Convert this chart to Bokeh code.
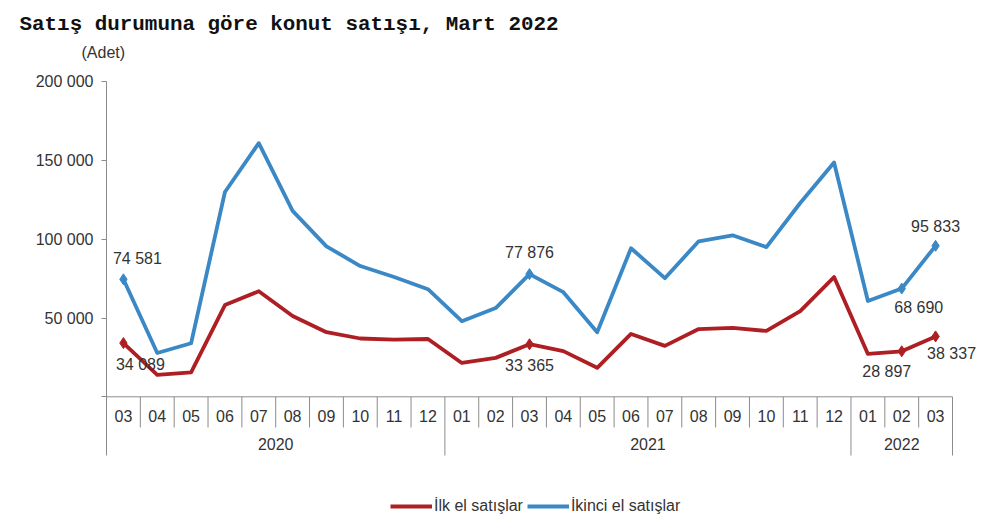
from bokeh.plotting import figure
from bokeh.models import (Range1d, FixedTicker, Title, Legend, LegendItem,
                          ColumnDataSource)
from bokeh.embed import file_html
from bokeh.resources import INLINE

# ---------------- data ----------------
months = ["03", "04", "05", "06", "07", "08", "09", "10", "11", "12",
          "01", "02", "03", "04", "05", "06", "07", "08", "09", "10", "11", "12",
          "01", "02", "03"]
years = ["2020"] * 10 + ["2021"] * 12 + ["2022"] * 3
year_labels = ["2020", "2021", "2022"]

ilk_el = [34089, 13900, 15500, 58200, 67000, 51300, 41000, 37000, 36300, 36700,
          21500, 24700, 33365, 29000, 18400, 39900, 32300, 43000, 43700, 41800,
          54400, 76000, 27200, 28897, 38337]
ikinci_el = [74581, 27800, 34000, 130000, 161000, 118000, 95500, 83000, 76000, 68300,
             48000, 56300, 77876, 66400, 41000, 94300, 75300, 98700, 102500, 95000,
             123000, 148700, 60800, 68690, 95833]

labeled_idx = [0, 12, 23, 24]
y_ticks = [0, 50000, 100000, 150000, 200000]
y_tick_labels = ["", "50 000", "100 000", "150 000", "200 000"]

title_text = "Satış durumuna göre konut satışı, Mart 2022"
unit_text = "(Adet)"
series_names = ["İlk el satışlar", "İkinci el satışlar"]

# ---------------- styling / layout ----------------
RED = "#AE1F24"
BLUE = "#3A88C6"
GRID = "#8C8C8C"
TXT = "#333333"
FONT = "Liberation Sans"

W, H = 987, 515
LEFT = 106
FT = 60                  # pixel row of the frame top (titles above it)
CAT_W = 33.84
ZERO_PX = 396.3          # pixel row of value 0
K = 200000 / 315.1       # value units per pixel


def y_at(px):
    return (ZERO_PX - px) * K


n = len(months)
x = list(range(n))

p = figure(width=W, height=H, output_backend="svg", toolbar_location=None,
           x_axis_location=None, y_axis_location="left",
           min_border_left=LEFT, min_border_right=0, min_border_top=FT,
           min_border_bottom=0,
           x_range=Range1d(-0.5, -0.5 + (W - LEFT) / CAT_W),
           y_range=Range1d(y_at(H), y_at(FT)))
p.outline_line_color = None
p.grid.visible = False
p.background_fill_color = "white"
p.border_fill_color = "white"

y_table_bot = y_at(455)
y_month_bot = y_at(427)

yax = p.yaxis[0]
yax.ticker = FixedTicker(ticks=y_ticks, minor_ticks=[])
yax.major_label_overrides = {t: l for t, l in zip(y_ticks, y_tick_labels)}
yax.bounds = (y_table_bot, max(y_ticks))
yax.axis_line_color = GRID
yax.major_tick_line_color = GRID
yax.major_tick_out = 5
yax.major_tick_in = 0
yax.minor_tick_line_color = None
yax.major_label_text_font = FONT
yax.major_label_text_font_size = "16px"
yax.major_label_text_color = TXT
yax.major_label_standoff = 8

# ---------------- category table ----------------
p.segment(x0=[-0.5], y0=[0], x1=[n - 0.5], y1=[0], line_color=GRID, line_width=1)
mx, yx = [], []
for i in range(n - 1):
    if years[i] == years[i + 1]:
        mx.append(i + 0.5)
    else:
        yx.append(i + 0.5)
yx.append(n - 0.5)
p.segment(x0=mx, y0=[0] * len(mx), x1=mx, y1=[y_month_bot] * len(mx),
          line_color=GRID, line_width=1)
p.segment(x0=yx, y0=[0] * len(yx), x1=yx, y1=[y_table_bot] * len(yx),
          line_color=GRID, line_width=1)

p.text(x=x, y=[y_at(415)] * n, text=months, text_align="center",
       text_baseline="middle", text_font_size="16px", text_color=TXT,
       text_font={"value": FONT})

ycent = []
for yl in year_labels:
    idx = [i for i, yy in enumerate(years) if yy == yl]
    ycent.append((idx[0] + idx[-1]) / 2)
p.text(x=ycent, y=[y_at(443)] * len(ycent), text=year_labels, text_align="center",
       text_baseline="middle", text_font_size="16px", text_color=TXT,
       text_font={"value": FONT})

# ---------------- lines ----------------
r_ilk = p.line(x, ilk_el, line_color=RED, line_width=3.8, line_join="round")
r_iki = p.line(x, ikinci_el, line_color=BLUE, line_width=3.8, line_join="round")

p.scatter([x[i] for i in labeled_idx], [ilk_el[i] for i in labeled_idx],
          marker="diamond", size=11, fill_color=RED, line_color=RED)
p.scatter([x[i] for i in labeled_idx], [ikinci_el[i] for i in labeled_idx],
          marker="diamond", size=11, fill_color=BLUE, line_color=BLUE)


def fmt(v):
    return f"{v:,}".replace(",", " ")


# label offsets in screen pixels (dx, dy)
ilk_off = {0: (17, 21), 12: (0, 21), 23: (-15, 20), 24: (16, 17)}
iki_off = {0: (14, -21), 12: (0, -22), 23: (17, 19), 24: (0, -19)}

lab = dict(x=[], y=[], t=[], dx=[], dy=[])
for i in labeled_idx:
    for vals, off in ((ilk_el, ilk_off), (ikinci_el, iki_off)):
        lab["x"].append(x[i])
        lab["y"].append(vals[i])
        lab["t"].append(fmt(vals[i]))
        lab["dx"].append(off[i][0])
        lab["dy"].append(off[i][1])
src = ColumnDataSource(lab)
p.text(x="x", y="y", text="t", x_offset="dx", y_offset="dy", source=src,
       text_align="center", text_baseline="middle", text_font_size="16px",
       text_color=TXT, text_font={"value": FONT})

# ---------------- title / unit ----------------
p.add_layout(Title(text=unit_text, align="left", offset=81 - LEFT, standoff=0,
                   text_font=FONT, text_font_size="16px", text_font_style="normal",
                   text_color=TXT), "above")
p.add_layout(Title(text=title_text, align="left", offset=19 - LEFT, standoff=11,
                   text_font="Liberation Mono", text_font_style="bold",
                   text_font_size="20.9px", text_color="#111111"), "above")

# ---------------- legend ----------------
legend = Legend(items=[LegendItem(label=series_names[0], renderers=[r_ilk]),
                       LegendItem(label=series_names[1], renderers=[r_iki])],
                orientation="horizontal", location=(390 - LEFT, 0),
                padding=0, margin=0, spacing=4, label_standoff=2,
                glyph_width=42, glyph_height=16, label_height=16,
                label_text_font=FONT, label_text_font_size="16px",
                label_text_color=TXT, border_line_color=None,
                background_fill_alpha=0)
p.add_layout(legend)

open("out.html", "w").write(file_html(p, INLINE))
